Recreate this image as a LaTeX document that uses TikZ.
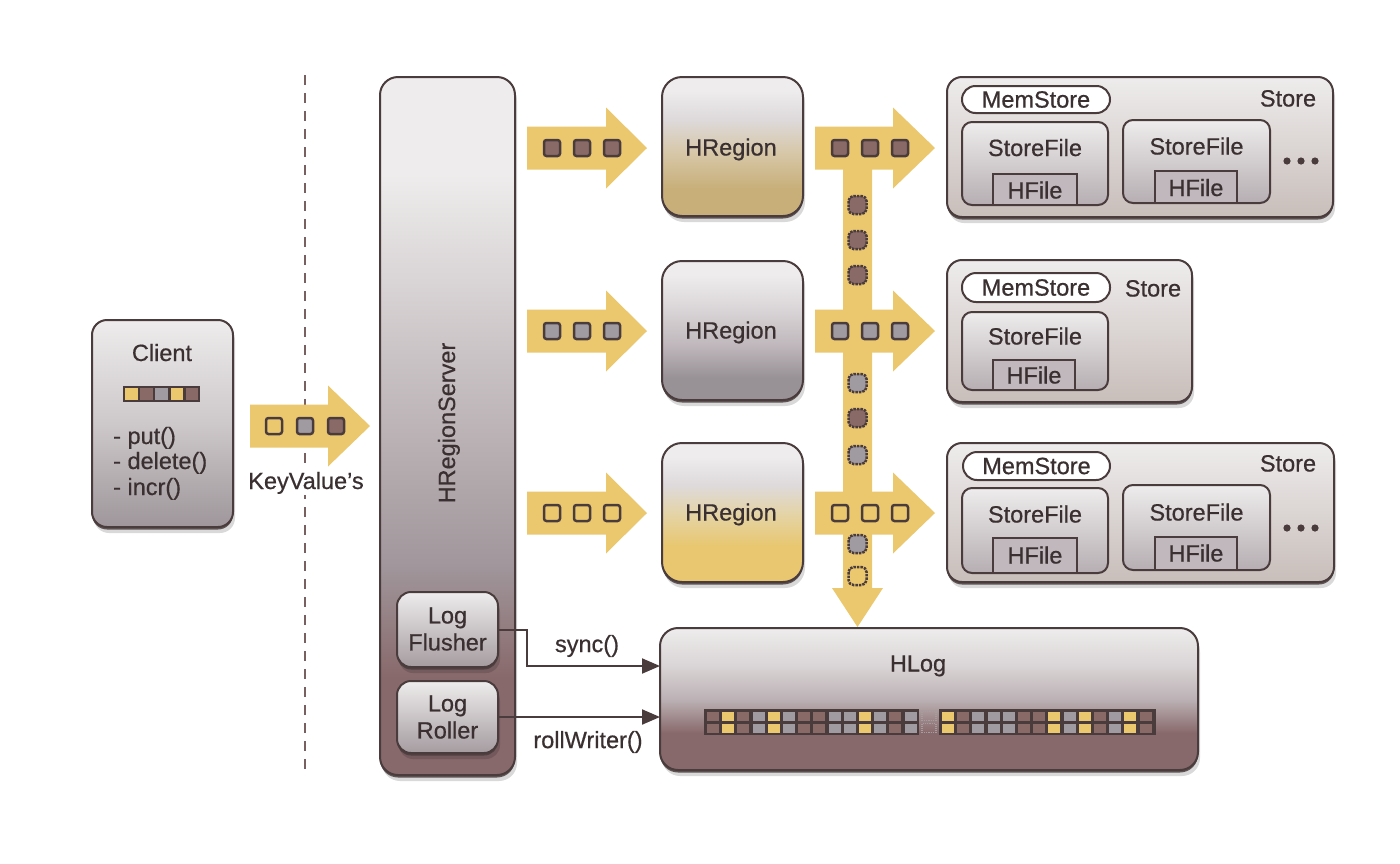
\documentclass[tikz,border=0pt]{standalone}
\usepackage{fontspec}
\setmainfont{Liberation Sans}[FakeBold=0.6]
\usetikzlibrary{arrows.meta,shadows}

\definecolor{ylw}{RGB}{235,200,110}
\definecolor{edge}{RGB}{74,60,61}
\definecolor{txt}{RGB}{58,48,49}
\definecolor{mauve}{RGB}{136,105,107}
\definecolor{lite}{RGB}{238,236,236}
\definecolor{cb}{RGB}{138,106,102}
\definecolor{cg}{RGB}{160,155,160}
\definecolor{cy}{RGB}{235,200,110}
\definecolor{hrsA}{RGB}{160,150,155}
\definecolor{hrsB}{RGB}{202,195,197}
\definecolor{regA}{RGB}{152,145,150}
\definecolor{regB}{RGB}{192,184,188}
\definecolor{regC}{RGB}{222,218,220}
\definecolor{rbA}{RGB}{200,175,122}
\definecolor{rbB}{RGB}{214,198,165}
\definecolor{ryA}{RGB}{232,199,112}
\definecolor{ryB}{RGB}{228,212,168}
\definecolor{cliA}{RGB}{158,150,154}
\definecolor{cliB}{RGB}{205,200,202}
\definecolor{stA}{RGB}{200,190,186}
\definecolor{sfA}{RGB}{182,174,178}
\definecolor{hfile}{RGB}{192,184,188}
\definecolor{logA}{RGB}{165,156,160}
\definecolor{hlB}{RGB}{188,178,181}
\definecolor{hlC}{RGB}{218,213,214}
\definecolor{sepc}{RGB}{120,95,96}

\pgfdeclareverticalshading{shHRS}{100bp}{color(0bp)=(mauve); color(25bp)=(mauve); color(32bp)=(mauve); color(40bp)=(hrsA); color(55bp)=(hrsB); color(68bp)=(lite); color(100bp)=(lite)}
\pgfdeclareverticalshading{shReg}{100bp}{color(0bp)=(regA); color(25bp)=(regA); color(33bp)=(regA); color(45bp)=(regB); color(60bp)=(regC); color(70bp)=(lite); color(100bp)=(lite)}
\pgfdeclareverticalshading{shRegB}{100bp}{color(0bp)=(rbA); color(25bp)=(rbA); color(35bp)=(rbA); color(47bp)=(rbB); color(60bp)=(regC); color(70bp)=(lite); color(100bp)=(lite)}
\pgfdeclareverticalshading{shRegY}{100bp}{color(0bp)=(ryA); color(25bp)=(ryA); color(38bp)=(ryA); color(50bp)=(ryB); color(60bp)=(regC); color(70bp)=(lite); color(100bp)=(lite)}
\pgfdeclareverticalshading{shCli}{100bp}{color(0bp)=(cliA); color(25bp)=(cliA); color(50bp)=(cliB); color(75bp)=(lite); color(100bp)=(lite)}
\pgfdeclareverticalshading{shSt}{100bp}{color(0bp)=(stA); color(25bp)=(stA); color(75bp)=(lite); color(100bp)=(lite)}
\pgfdeclareverticalshading{shSF}{100bp}{color(0bp)=(sfA); color(25bp)=(sfA); color(75bp)=(lite); color(100bp)=(lite)}
\pgfdeclareverticalshading{shLog}{100bp}{color(0bp)=(logA); color(25bp)=(logA); color(75bp)=(lite); color(100bp)=(lite)}
\pgfdeclareverticalshading{shHL}{100bp}{color(0bp)=(mauve); color(25bp)=(mauve); color(38bp)=(mauve); color(50bp)=(hlB); color(62bp)=(hlC); color(75bp)=(lite); color(100bp)=(lite)}

\tikzset{
  sh/.style={drop shadow={shadow xshift=2pt,shadow yshift=-6pt,opacity=.15,fill=black},
             drop shadow={shadow xshift=0pt,shadow yshift=-2.5pt,opacity=.85,fill=edge}},
  box/.style={draw=edge, line width=2pt, inner sep=0pt, outer sep=0pt, rounded corners=#1, sh},
  inbox/.style={draw=edge, line width=2pt, inner sep=0pt, outer sep=0pt, rounded corners=#1},
  lbl/.style={font=\fontsize{23.5}{27}\selectfont, text=txt, inner sep=0pt},
  tokst/.style={draw=edge, line width=2.5pt, rounded corners=2.5pt},
  ghost/.style={draw=edge, line width=2.5pt, rounded corners=5pt, densely dotted},
  conn/.style={draw=edge, line width=2pt, -{Triangle[length=18pt,width=15pt]}},
  sepline/.style={draw=sepc, line width=2.5pt, dash pattern=on 10pt off 8pt}
}

\newcommand{\yarrowH}[4]{% start, head back, tip, centre y
  \fill[ylw] (#1,#4-21.5) -- (#2,#4-21.5) -- (#2,#4-40.5) -- (#3,#4)
    -- (#2,#4+40.5) -- (#2,#4+21.5) -- (#1,#4+21.5) -- cycle;}
\newcommand{\tok}[3]{\draw[tokst, fill=#3] (#1-8,#2-8) rectangle (#1+8,#2+8);}
\newcommand{\gtok}[3]{\draw[ghost, fill=#3] (#1-9,#2-9) rectangle (#1+9,#2+9);}

\begin{document}
\begin{tikzpicture}[x=1pt,y=-1pt]
\useasboundingbox (0,0) rectangle (1400,863);
\fill[white] (0,0) rectangle (1400,863);

% separator
\draw[sepline] (305,75) -- (305,770);

% ---------- Client
\node[box=15, shading=shCli, minimum width=141, minimum height=207] (client) at (162.5,423.5) {};
\node[lbl, anchor=base] (clientT) at (162,361) {Client};
\fill[edge] (123,386) rectangle (200,402);
\foreach \c [count=\i from 0] in {cy,cb,cg,cy,cb}
  \fill[\c] (125+\i*15.2,388) rectangle (137.5+\i*15.2,400);
\node[lbl, anchor=base west] (put) at (113,444) {- put()};
\node[lbl, anchor=base west] (del) at (113,469) {- delete()};
\node[lbl, anchor=base west] (inc) at (113,495) {- incr()};

% KeyValue arrow
\yarrowH{250}{328}{370}{426}
\tok{274}{426}{cy}\tok{305}{426}{cg}\tok{336}{426}{cb}
\node[lbl, anchor=base, fill=white, inner sep=1pt] (kv) at (306,489) {KeyValue's};

% ---------- HRegionServer
\node[box=18, shading=shHRS, minimum width=135, minimum height=698] (hrs) at (447.5,426) {};
\node[lbl, rotate=90, anchor=base] (hrsT) at (455,423) {HRegionServer};
\node[box=14, shading=shLog, minimum width=101, minimum height=75] (flusher) at (447.5,629.5) {};
\node[lbl, align=center] (flusherT) at (447.5,629) {Log\\Flusher};
\node[box=14, shading=shLog, minimum width=101, minimum height=72] (roller) at (447.5,717) {};
\node[lbl, align=center] (rollerT) at (447.5,717) {Log\\Roller};

% ---------- arrows into regions
\yarrowH{527}{606}{647}{148}
\yarrowH{527}{606}{647}{331}
\yarrowH{527}{606}{647}{513}
\foreach \x in {552,582,612}{\tok{\x}{148}{cb}\tok{\x}{331}{cg}\tok{\x}{513}{ylw}}

% ---------- HRegions
\node[box=20, shading=shRegB, minimum width=141, minimum height=139] (r1) at (732.5,146.5) {};
\node[box=20, shading=shReg,  minimum width=141, minimum height=139] (r2) at (732.5,330.5) {};
\node[box=20, shading=shRegY, minimum width=141, minimum height=139] (r3) at (732.5,512.5) {};
\node[lbl, anchor=base] (r1T) at (731,155.5) {HRegion};
\node[lbl, anchor=base] (r2T) at (731,338.5) {HRegion};
\node[lbl, anchor=base] (r3T) at (731,520.5) {HRegion};

% ---------- vertical bar + right arrows
\fill[ylw] (843,150) -- (872,150) -- (872,588) -- (883,588) -- (857.5,627)
  -- (832,588) -- (843,588) -- cycle;
\yarrowH{815}{893}{935}{148}
\yarrowH{815}{893}{935}{331}
\yarrowH{815}{893}{935}{513}
\foreach \x in {840,870,900}{\tok{\x}{148}{cb}\tok{\x}{331}{cg}\tok{\x}{513}{ylw}}
\gtok{857.5}{205}{cb}\gtok{857.5}{240}{cb}\gtok{857.5}{275}{cb}
\gtok{857.5}{383}{cg}\gtok{857.5}{418}{cb}\gtok{857.5}{455}{cg}
\gtok{857.5}{544}{cg}\gtok{857.5}{576}{ylw}

% ---------- Stores
% Store 1
\node[box=15, shading=shSt, minimum width=386, minimum height=140] (s1) at (1140,147) {};
\node[inbox=13.5, fill=white, minimum width=148, minimum height=27] (m1) at (1036,99.5) {};
\node[lbl] (m1T) at (1036,99.5) {MemStore};
\node[lbl, anchor=base] (s1T) at (1288,106.5) {Store};
\node[inbox=10, shading=shSF, minimum width=146, minimum height=83] (f11) at (1035,163.5) {};
\node[inbox=0, fill=hfile, minimum width=84, minimum height=31] (h11) at (1035,189.5) {};
\node[lbl, anchor=base] (f11T) at (1035,156) {StoreFile};
\node[lbl, anchor=base] (h11T) at (1035,198.5) {HFile};
\node[inbox=10, shading=shSF, minimum width=147, minimum height=83] (f12) at (1196.5,161.5) {};
\node[inbox=0, fill=hfile, minimum width=82, minimum height=32] (h12) at (1196,187) {};
\node[lbl, anchor=base] (f12T) at (1196.5,154.5) {StoreFile};
\node[lbl, anchor=base] (h12T) at (1196,196) {HFile};
\foreach \x in {1287,1301,1315} \fill[edge] (\x,161) circle (3.6);

% Store 2
\node[box=15, shading=shSt, minimum width=245, minimum height=142] (s2) at (1069.5,331) {};
\node[inbox=14, fill=white, minimum width=148, minimum height=29] (m2) at (1036,287.5) {};
\node[lbl] (m2T) at (1036,287.5) {MemStore};
\node[lbl, anchor=base] (s2T) at (1153,296.5) {Store};
\node[inbox=10, shading=shSF, minimum width=146, minimum height=78] (f21) at (1035,351) {};
\node[inbox=0, fill=hfile, minimum width=82, minimum height=30] (h21) at (1034,375) {};
\node[lbl, anchor=base] (f21T) at (1035,344.5) {StoreFile};
\node[lbl, anchor=base] (h21T) at (1034,383.5) {HFile};

% Store 3
\node[box=15, shading=shSt, minimum width=387, minimum height=139] (s3) at (1140.5,512.5) {};
\node[inbox=14, fill=white, minimum width=147, minimum height=28] (m3) at (1036.5,466) {};
\node[lbl] (m3T) at (1036.5,466) {MemStore};
\node[lbl, anchor=base] (s3T) at (1288,471.5) {Store};
\node[inbox=10, shading=shSF, minimum width=146, minimum height=85] (f31) at (1035,530.5) {};
\node[inbox=0, fill=hfile, minimum width=84, minimum height=35] (h31) at (1035,555.5) {};
\node[lbl, anchor=base] (f31T) at (1035,522.5) {StoreFile};
\node[lbl, anchor=base] (h31T) at (1035,563.5) {HFile};
\node[inbox=10, shading=shSF, minimum width=147, minimum height=85] (f32) at (1196.5,527.5) {};
\node[inbox=0, fill=hfile, minimum width=82, minimum height=33] (h32) at (1196,553.5) {};
\node[lbl, anchor=base] (f32T) at (1196.5,520.5) {StoreFile};
\node[lbl, anchor=base] (h32T) at (1196,561.5) {HFile};
\foreach \x in {1287,1301,1315} \fill[edge] (\x,528) circle (3.6);

% ---------- HLog
\node[box=18, shading=shHL, minimum width=538, minimum height=142] (hlog) at (929,699) {};
\node[lbl, anchor=base] (hlogT) at (918,671.5) {HLog};
\fill[edge] (704,709) rectangle (919,735);
\fill[edge] (939,709) rectangle (1156,735);
\foreach \c [count=\i from 0] in {cb,cy,cb,cg,cy,cg,cb,cb,cg,cg,cy,cg,cb,cg}{
  \fill[\c] (707+\i*15.2,711.5) rectangle (719+\i*15.2,720.5);
  \fill[\c] (707+\i*15.2,723.5) rectangle (719+\i*15.2,732.5);}
\foreach \c [count=\i from 0] in {cy,cb,cg,cg,cg,cb,cb,cy,cg,cy,cb,cg,cy,cb}{
  \fill[\c] (942+\i*15.2,711.5) rectangle (954+\i*15.2,720.5);
  \fill[\c] (942+\i*15.2,723.5) rectangle (954+\i*15.2,732.5);}
\draw[edge!50, line width=1.2pt, densely dotted] (922,711.5) rectangle (936,720.5);
\draw[edge!50, line width=1.2pt, densely dotted] (922,723.5) rectangle (936,732.5);

% ---------- connectors
\draw[conn] (flusher.east) -- (527,629.5) |- (hlog.west |- 0,666);
\draw[conn] (roller.east) -- (roller.east -| hlog.west);
\node[lbl] (syncT) at (587,646) {sync()};
\node[lbl] (rollT) at (588,742) {rollWriter()};
\end{tikzpicture}
\end{document}
